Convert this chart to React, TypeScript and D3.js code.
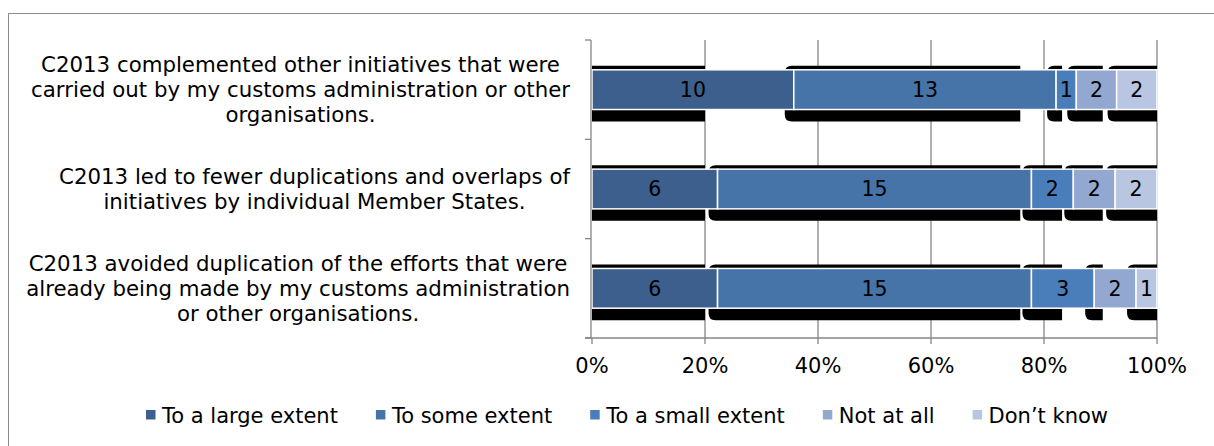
import React from "react";
import * as d3 from "d3";

const categories: string[][] = [
  ["C2013 complemented other initiatives that were", "carried out by my customs administration or other", "organisations."],
  ["C2013 led to fewer duplications and overlaps of", "initiatives by individual Member States."],
  ["C2013 avoided duplication of the efforts that were", "already being made by my customs administration", "or other organisations."],
];
const seriesNames = ["To a large extent", "To some extent", "To a small extent", "Not at all", "Don\u2019t know"];
const largeExtent = [10, 6, 6];
const someExtent = [13, 15, 15];
const smallExtent = [1, 2, 3];
const notAtAll = [2, 2, 2];
const dontKnow = [2, 2, 1];
const tickValues = [0, 20, 40, 60, 80, 100];
const tickLabels = ["0%", "20%", "40%", "60%", "80%", "100%"];
// right ends (in %) of the black shadow blobs drawn behind each segment
const shadowEnds = [20, 75.8, 83.2, 90.4, 100];
const colors = ["#3C5F8D", "#4673A8", "#4A7EBB", "#93A8D0", "#B9C6E2"];

const W = 1214, H = 446;
const FONT = "'DejaVu Sans', Verdana, sans-serif";
const BAR_FS = 20.5;
const TICK_FS = 21;
const CAT_FS = 21.3;
const LEG_FS = 21;

function measure(text: string, size: number) {
  const c = document.createElement("canvas").getContext("2d")!;
  c.font = `${size}px ${FONT}`;
  return c.measureText(text).width;
}

export default function App() {
  const series = [largeExtent, someExtent, smallExtent, notAtAll, dontKnow];
  const rows = categories.map((_, i) => series.map((s) => s[i]));
  const x = d3.scaleLinear().domain([0, 100]).range([592, 1157]);
  const y = d3.scaleBand<number>().domain(d3.range(categories.length)).range([40, 338]).paddingInner(0.6).paddingOuter(0.3);
  const bw = y.bandwidth();
  const grid = "#868686";

  // legend
  const mk = 9.5, mkGap = 6.5, itemGap = 38;
  const widths = seriesNames.map((n) => measure(n, LEG_FS));
  const total = d3.sum(widths) + seriesNames.length * (mk + mkGap) + (seriesNames.length - 1) * itemGap;
  let lx = 1108 - total;
  const legendItems = seriesNames.map((n, i) => {
    const item = { x: lx, name: n, color: colors[i] };
    lx += mk + mkGap + widths[i] + itemGap;
    return item;
  });

  const shadowPath = (x0: number, x1: number, y0: number, y1: number, r: number) => {
    const rr = Math.min(r, (x1 - x0) / 2);
    return `M${x0 + rr},${y0} L${x1},${y0} L${x1},${y1} L${x0 + rr},${y1} Q${x0},${y1} ${x0},${y1 - rr} L${x0},${y0 + rr} Q${x0},${y0} ${x0 + rr},${y0} Z`;
  };

  const labelRight = 570;

  return (
    <svg width={W} height={H} style={{ position: "absolute", left: 0, top: 0, background: "#fff" }} fontFamily={FONT}>
      <rect x={8.5} y={13.5} width={W} height={H} fill="#fff" stroke="#8c8c8c" strokeWidth={1} />
      {/* gridlines */}
      {tickValues.slice(1).map((t) => (
        <line key={t} x1={x(t)} x2={x(t)} y1={40} y2={338} stroke={grid} strokeWidth={1.3} />
      ))}
      {/* shadows */}
      {rows.map((vals, ri) => {
        const tot = d3.sum(vals);
        const cum = d3.cumsum(vals).map((c) => (c / tot) * 100);
        const yy = y(ri)!;
        return vals.map((_, si) => {
          const start = si === 0 ? 0 : cum[si - 1];
          const x0 = si === 0 ? x(0) : x(start) - 9;
          const x1 = x(shadowEnds[si]);
          if (x1 <= x0) return null;
          return (
            <path key={`s${ri}-${si}`} d={shadowPath(x0, x1, yy - 4, yy + bw + 12, si === 0 ? 0 : 7)} fill="#000" />
          );
        });
      })}
      {/* bars */}
      {rows.map((vals, ri) => {
        const tot = d3.sum(vals);
        const cum = d3.cumsum(vals).map((c) => (c / tot) * 100);
        const yy = y(ri)!;
        return vals.map((v, si) => {
          const start = si === 0 ? 0 : cum[si - 1];
          const x0 = x(start), x1 = x(cum[si]);
          return (
            <g key={`b${ri}-${si}`}>
              <rect x={x0} y={yy} width={x1 - x0} height={bw} fill={colors[si]} stroke="#fff" strokeWidth={1.5} />
              <text x={(x0 + x1) / 2} y={yy + bw / 2} dy="0.36em" textAnchor="middle" fontSize={BAR_FS} fill="#000">{v}</text>
            </g>
          );
        });
      })}
      {/* y axis */}
      <line x1={591} x2={591} y1={40} y2={338} stroke={grid} strokeWidth={1.3} />
      {d3.range(categories.length + 1).map((k) => {
        const yy = 40 + (298 / categories.length) * k;
        return <line key={`yt${k}`} x1={585} x2={591} y1={yy} y2={yy} stroke={grid} strokeWidth={1.3} />;
      })}
      {/* x axis */}
      <line x1={585} x2={1157} y1={338} y2={338} stroke={grid} strokeWidth={1.3} />
      {tickValues.map((t, i) => (
        <g key={`xt${t}`}>
          <line x1={x(t)} x2={x(t)} y1={338} y2={344} stroke={grid} strokeWidth={1.3} />
          <text x={x(t)} y={373} textAnchor="middle" fontSize={TICK_FS} fill="#000">{tickLabels[i]}</text>
        </g>
      ))}
      {/* category labels: block right-aligned to the axis, lines centred in the block */}
      {categories.map((lines, ri) => {
        const cy = y(ri)! + bw / 2;
        const lh = 25;
        const top = cy - ((lines.length - 1) * lh) / 2;
        const blockW = d3.max(lines, (l) => measure(l, CAT_FS))!;
        const cx = labelRight - blockW / 2;
        return (
          <text key={`c${ri}`} textAnchor="middle" fontSize={CAT_FS} fill="#000">
            {lines.map((l, li) => (
              <tspan key={li} x={cx} y={top + li * lh} dy="0.36em">{l}</tspan>
            ))}
          </text>
        );
      })}
      {/* legend */}
      {legendItems.map((it) => (
        <g key={it.name}>
          <rect x={it.x} y={410} width={mk} height={mk} fill={it.color} />
          <text x={it.x + mk + mkGap} y={423} fontSize={LEG_FS} fill="#000">{it.name}</text>
        </g>
      ))}
    </svg>
  );
}
